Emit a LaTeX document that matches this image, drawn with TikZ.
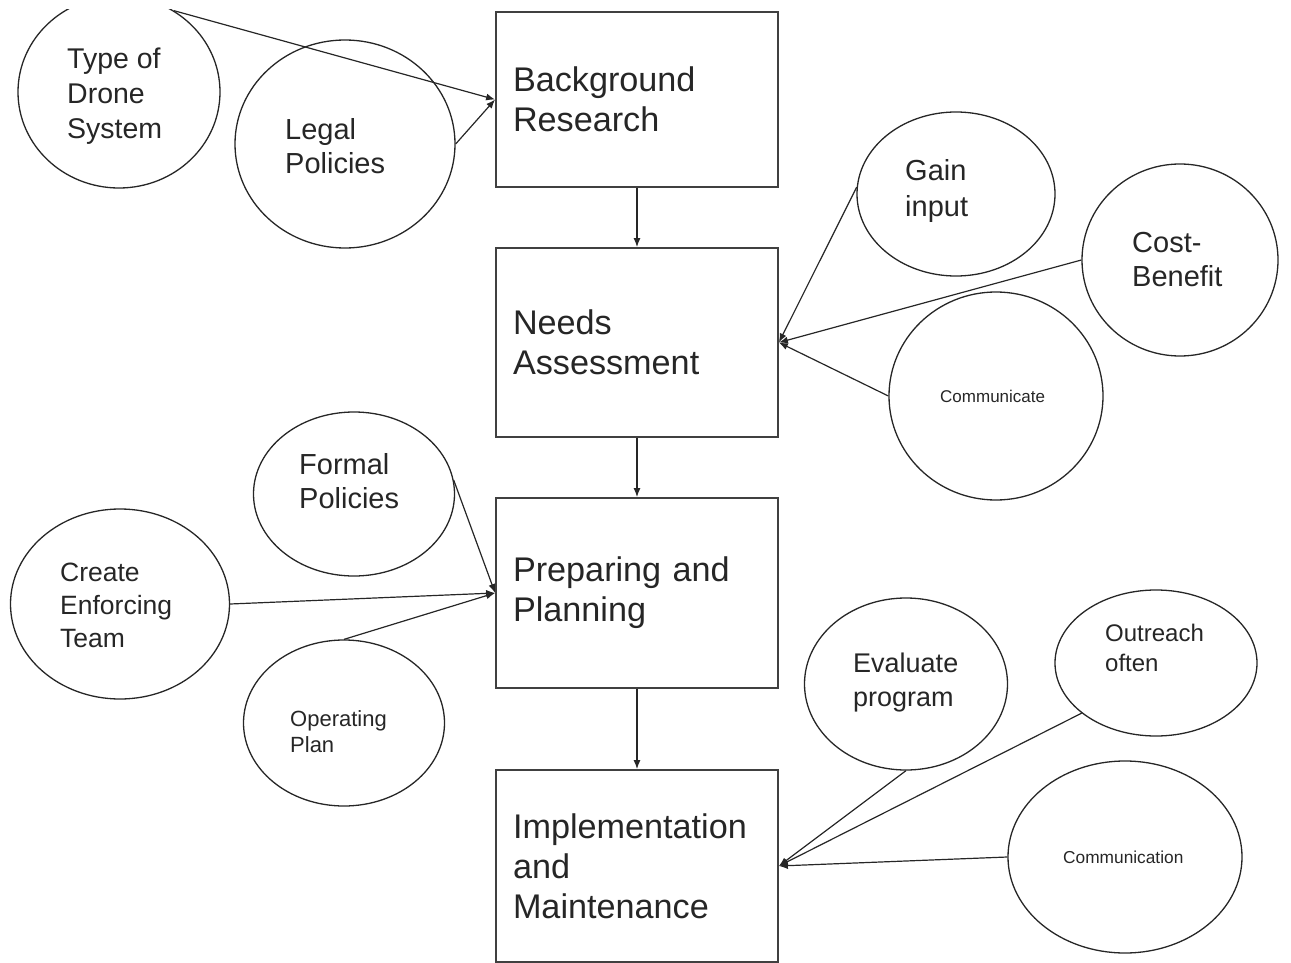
\documentclass[tikz,border=0pt]{standalone}
\usepackage{fontspec}
\setmainfont{Liberation Sans}
\usetikzlibrary{shapes.geometric,arrows.meta}
\begin{document}
\begin{tikzpicture}[x=1pt,y=-1pt,
  stagebox/.style={draw=black!75, line width=1.8pt, rectangle, minimum width=282, inner xsep=17, inner ysep=0,
    text width=248, align=left, font=\fontsize{34.2pt}{40pt}\selectfont, text=black!85},
  bubble/.style={draw=black!85, line width=1.3pt, ellipse, inner sep=0},
  btext/.style={anchor=west, align=left, inner sep=0, text=black!85},
  conn/.style={draw=black!85, line width=1.2pt, -{Latex[length=9pt,width=7pt]}}
]
\useasboundingbox (0,0) rectangle (1291,963);
\clip (0,10) rectangle (1291,963);

% stage boxes
\node[stagebox, minimum height=175] (b1) at (637,99.5) {Background\\Research};
\node[stagebox, minimum height=189] (b2) at (637,342.5) {Needs\\Assessment};
\node[stagebox, minimum height=190] (b3) at (637,593) {Preparing and\\Planning};
\node[stagebox, minimum height=192] (b4) at (637,866) {Implementation\\and\\Maintenance};

% bubbles
\node[bubble, minimum width=202, minimum height=192] (type) at (119,92) {};
\node[btext, font=\fontsize{28.5pt}{35pt}\selectfont] (typet) at (67,96) {Type of\\Drone\\System};

\node[bubble, minimum width=220, minimum height=208] (legal) at (345,144) {};
\node[btext, font=\fontsize{29pt}{34pt}\selectfont] (legalt) at (285,146) {Legal\\Policies};

\node[bubble, minimum width=198, minimum height=164] (gain) at (956,194) {};
\node[btext, font=\fontsize{29pt}{36pt}\selectfont] (gaint) at (905,191) {Gain\\input};

\node[bubble, minimum width=196, minimum height=192] (cost) at (1180,260) {};
\node[btext, font=\fontsize{29pt}{34pt}\selectfont] (costt) at (1132,260) {Cost-\\Benefit};

\node[bubble, minimum width=214, minimum height=208] (comm) at (996,396) {};
\node[btext, font=\fontsize{17pt}{20pt}\selectfont] (commt) at (940,396) {Communicate};

\node[bubble, minimum width=201, minimum height=164] (formal) at (354,494) {};
\node[btext, font=\fontsize{29pt}{34pt}\selectfont] (formalt) at (299,481) {Formal\\Policies};

\node[bubble, minimum width=219, minimum height=190] (create) at (120,604) {};
\node[btext, font=\fontsize{26.5pt}{33pt}\selectfont] (createt) at (60,605) {Create\\Enforcing\\Team};

\node[bubble, minimum width=201, minimum height=166] (oper) at (344,723) {};
\node[btext, font=\fontsize{22pt}{26pt}\selectfont] (opert) at (290,732) {Operating\\Plan};

\node[bubble, minimum width=203, minimum height=172] (eval) at (906,684) {};
\node[btext, font=\fontsize{27pt}{34pt}\selectfont] (evalt) at (853,683) {Evaluate\\program};

\node[bubble, minimum width=202, minimum height=146] (outr) at (1156,663) {};
\node[btext, font=\fontsize{24pt}{30pt}\selectfont] (outrt) at (1105,648) {Outreach\\often};

\node[bubble, minimum width=234, minimum height=192] (comn) at (1125,857) {};
\node[btext, font=\fontsize{17.3pt}{20pt}\selectfont] (comnt) at (1063,857) {Communication};

% connectors
\draw[conn] (b1.south) -- (b2.north);
\draw[conn] (b2.south) -- (b3.north);
\draw[conn] (b3.south) -- (b4.north);

\draw[conn] (type.56) -- (b1.west);
\draw[conn] (legal.east) -- (b1.west);

\draw[conn] (gain.176) -- (b2.east);
\draw[conn] (cost.west) -- (b2.east);
\draw[conn] (comm.west) -- (b2.east);

\draw[conn] (formal.8) -- (b3.west);
\draw[conn] (create.east) -- (b3.west);
\draw[conn] (oper.north) -- (b3.west);

\draw[conn] (eval.south) -- (b4.east);
\draw[conn] (outr.214) -- (b4.east);
\draw[conn] (comn.west) -- (b4.east);
\end{tikzpicture}
\end{document}
